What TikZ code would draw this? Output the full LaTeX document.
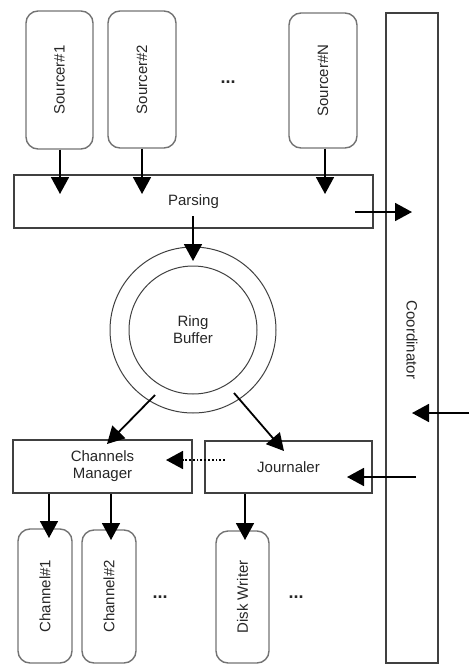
\documentclass[tikz,border=0pt]{standalone}
\usepackage{fontspec}
\setmainfont{Liberation Sans}
\usetikzlibrary{arrows.meta,calc}
\begin{document}
\begin{tikzpicture}[x=1pt,y=-1pt,
  every node/.style={font=\fontsize{15}{17}\selectfont, text=black!85, align=center},
  roundbox/.style={draw=black!55, line width=1.4pt, rounded corners=12pt, inner sep=0pt},
  sqbox/.style={draw=black!75, line width=2.4pt, inner sep=0pt},
  ringc/.style={draw=black!75, line width=1pt, circle, inner sep=0pt},
  arr/.style={line width=1.8pt, -{Triangle[length=17pt,width=18pt]}},
  dots/.style={font=\fontsize{18}{18}\selectfont\bfseries}
]
\useasboundingbox (0,0) rectangle (469,664);

% sourcers
\node[roundbox, minimum width=67pt, minimum height=138pt] (s1) at (59.5,80) {};
\node[rotate=90] at (s1.center) {Sourcer\#1};
\node[roundbox, minimum width=68pt, minimum height=137pt] (s2) at (142,79.5) {};
\node[rotate=90] at (s2.center) {Sourcer\#2};
\node[roundbox, minimum width=68pt, minimum height=135pt] (sn) at (323,80.5) {};
\node[rotate=90] at (sn.center) {Sourcer\#N};
\node[dots] (d1) at (228,82) {...};

% parsing
\node[sqbox, minimum width=359pt, minimum height=53pt] (parsing) at (193.5,201.5) {Parsing};

% coordinator
\node[sqbox, minimum width=52pt, minimum height=650pt] (coord) at (412,338) {};
\node[rotate=-90] at (412,340) {Coordinator};

% ring buffer
\node[ringc, minimum size=166pt] (outer) at (193,330) {};
\node[ringc, minimum size=128pt] (ring) at (193,330) {Ring\\Buffer};

% managers
\node[sqbox, minimum width=179pt, minimum height=53pt] (cm) at (102.5,466.5) {Channels\\Manager};
\node[sqbox, minimum width=167pt, minimum height=52pt] (jr) at (288.5,467) {Journaler};

% channels
\node[roundbox, minimum width=54pt, minimum height=134pt] (c1) at (45,596) {};
\node[rotate=90] at (c1.center) {Channel\#1};
\node[roundbox, minimum width=54pt, minimum height=133pt] (c2) at (109,596.5) {};
\node[rotate=90] at (c2.center) {Channel\#2};
\node[roundbox, minimum width=53pt, minimum height=132pt] (dw) at (242.5,597) {};
\node[rotate=90] at (dw.center) {Disk Writer};
\node[dots] (d2) at (160,597) {...};
\node[dots] (d3) at (296,597) {...};

% coordinates
\coordinate (s1t) at (60,194);
\coordinate (s2t) at (142,194);
\coordinate (snt) at (325,194);
\coordinate (pcs) at (355,212);
\coordinate (pcr) at (193,216);
\coordinate (prt) at (193,261);
\coordinate (rcs) at (155,395);
\coordinate (rct) at (107,444);
\coordinate (rjs) at (234,393);
\coordinate (rjt) at (284,451);
\coordinate (jds) at (225,460);
\coordinate (jdt) at (166,460);
\coordinate (cjs) at (416,477);
\coordinate (cjt) at (347,477);
\coordinate (ext) at (469,413);
\coordinate (c1t) at (49,538);
\coordinate (c2t) at (111,540);
\coordinate (dwt) at (245,540);

\draw[arr] (s1.south -| s1t) -- (s1t);
\draw[arr] (s2.south -| s2t) -- (s2t);
\draw[arr] (sn.south -| snt) -- (snt);
\draw[arr] (pcs) -- (coord.center |- pcs);
\draw[arr] (pcr) -- (prt);
\draw[arr] (rcs) -- (rct);
\draw[arr] (rjs) -- (rjt);
\draw[arr, dotted] (jds) -- (jdt);
\draw[arr] (cjs) -- (cjt);
\draw[arr] (ext) -- (coord.center |- ext);
\draw[arr] (cm.south -| c1t) -- (c1t);
\draw[arr] (cm.south -| c2t) -- (c2t);
\draw[arr] (jr.south -| dwt) -- (dwt);
\end{tikzpicture}
\end{document}
